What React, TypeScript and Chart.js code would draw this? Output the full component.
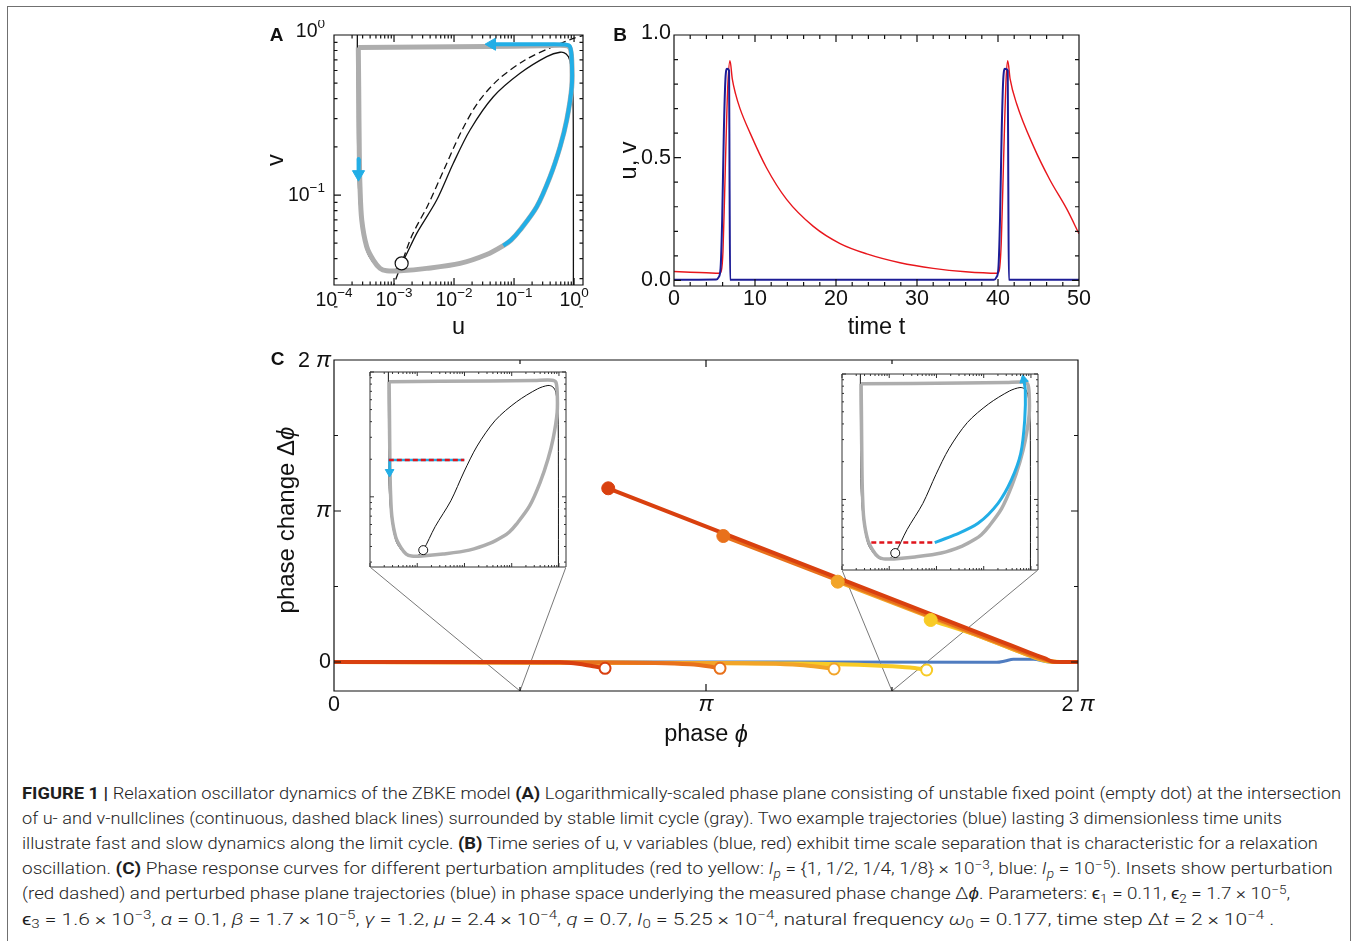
import React, { useEffect, useLayoutEffect, useRef } from 'react';
import { Chart, registerables } from 'chart.js';

Chart.register(...registerables);

type P = [number, number];

// ---------------- Panel A : log phase plane (u, v) ----------------
const aXTickExp = [-4, -3, -2, -1, 0];
const aXTickLabels = ['\u22124', '\u22123', '\u22122', '\u22121', '0'];
const aYTickExp = [-1, 0];
const aYTickLabels = ['\u22121', '0'];

// stable limit cycle (gray)
const limitCycle: P[] = [
  [2.54e-4, 0.835], [0.0355, 0.848], [0.30, 0.856], [0.708, 0.86], [0.857, 0.83], [0.916, 0.698],
  [0.916, 0.475], [0.755, 0.294], [0.585, 0.2], [0.398, 0.13], [0.239, 0.0845], [0.126, 0.0604],
  [0.0891, 0.0523], [0.0664, 0.0483], [0.0351, 0.0425], [0.0126, 0.0374], [0.00351, 0.0348], [0.00126, 0.0336],
  [7.55e-4, 0.0336], [5.85e-4, 0.0348], [4.52e-4, 0.0392], [3.51e-4, 0.0475], [2.9e-4, 0.0698],
  [2.71e-4, 0.1127], [2.64e-4, 0.182], [2.58e-4, 0.475], [2.54e-4, 0.835],
];
// example trajectory 1 (slow branch + jump)
const slowTrajectory: P[] = [
  [0.0664, 0.0483], [0.0891, 0.0523], [0.126, 0.0604], [0.239, 0.0845], [0.398, 0.13], [0.585, 0.2], [0.755, 0.294],
  [0.916, 0.475], [0.916, 0.698], [0.857, 0.845], [0.708, 0.872], [0.3, 0.875], [0.045, 0.876],
];
// example trajectory 2 (fast drop, left branch)
const fastTrajectory: P[] = [[2.6e-4, 0.168], [2.57e-4, 0.14]];
const arrowLeft: P[] = [[0.043, 0.876]];
const arrowDown: P[] = [[2.56e-4, 0.135]];
// u-nullcline (solid) and v-nullcline (dashed)
const uNullcline: P[] = [
  [2.45e-4, 1.05], [2.45e-4, 0.5], [2.6e-4, 0.1], [3.5e-4, 0.045], [6e-4, 0.034], [1.0e-3, 0.0338],
  [1.34e-3, 0.0374], [2.39e-3, 0.0576], [5.15e-3, 0.093], [9.73e-3, 0.158], [0.0185, 0.255],
  [0.0452, 0.411], [0.126, 0.576], [0.351, 0.732], [0.585, 0.78], [0.74, 0.76], [0.857, 0.69],
  [0.95, 0.475], [0.973, 0.183], [0.975, 0.02],
];
const vNullcline: P[] = [
  [8.0e-4, 0.022], [1.34e-3, 0.0374], [2.0e-3, 0.0560], [3.7e-3, 0.0870], [6.9e-3, 0.146],
  [0.0130, 0.246], [0.0250, 0.378], [0.0550, 0.528], [0.155, 0.700], [0.390, 0.828], [0.973, 0.953], [1.5, 1.0],
];
const fixedPoint: P[] = [[1.34e-3, 0.0374]];

// insets (same phase plane)
const insetLPerturbation: P[] = [[2.5e-4, 0.197], [9.9e-3, 0.197]];
const insetLTrajectory: P[] = [[2.6e-4, 0.197], [2.6e-4, 0.165]];
const insetLArrow: P[] = [[2.6e-4, 0.158]];
const insetRPerturbation: P[] = [[4.17e-4, 0.0453], [9.2e-3, 0.0453]];
const insetRTrajectory: P[] = [
  [9.2e-3, 0.0453], [0.0243, 0.0521], [0.0759, 0.0646], [0.201, 0.0932], [0.385, 0.143],
  [0.608, 0.233], [0.738, 0.43], [0.76, 0.745], [0.70, 0.9],
];
const insetRArrow: P[] = [[0.70, 0.9]];

// ---------------- Panel B : time series ----------------
const bXTicks = [0, 10, 20, 30, 40, 50];
const bYTicks = [0, 0.5, 1];
const bYTickLabels = ['0.0', '0.5', '1.0'];
const uSeries: P[] = [
  [0, 0.002], [5.2, 0.003], [5.5, 0.012], [5.75, 0.05], [5.95, 0.25], [6.15, 0.6], [6.35, 0.82],
  [6.55, 0.862], [6.8, 0.855], [6.86, 0.4], [6.93, 0.002], [39.5, 0.002], [39.8, 0.012], [40.05, 0.05],
  [40.25, 0.25], [40.45, 0.6], [40.65, 0.82], [40.86, 0.862], [41.2, 0.855], [41.27, 0.4], [41.34, 0.002],
  [50, 0.002],
];
const vSeries: P[] = [
  [0, 0.036], [2, 0.033], [4, 0.031], [5.6, 0.029], [5.85, 0.04], [6.05, 0.12], [6.25, 0.35], [6.45, 0.6],
  [6.65, 0.8], [6.91, 0.895], [7.2, 0.82], [7.6, 0.76], [8.15, 0.7], [9.4, 0.6], [11.4, 0.46], [13.9, 0.33],
  [17.2, 0.22], [20.5, 0.15], [23.8, 0.108], [27.9, 0.072], [32, 0.049], [36, 0.035], [39.9, 0.029],
  [40.15, 0.04], [40.4, 0.15], [40.6, 0.38], [40.8, 0.62], [41.0, 0.82], [41.2, 0.895], [41.5, 0.82],
  [42.3, 0.72], [44.4, 0.545], [46.4, 0.41], [48.5, 0.29], [50, 0.19],
];

// ---------------- Panel C : phase response curves ----------------
const PI = Math.PI;
const cTicks = [0, PI / 2, PI, (3 * PI) / 2, 2 * PI];
const redPre: P[] = [[0, 0], [0.98, 0], [1.909, -0.006], [2.078, -0.042], [2.204, -0.094], [2.289, -0.131]];
const redPost: P[] = [[2.316, 3.614], [5.624, 0.435], [5.878, 0.191], [6.005, 0.073], [6.072, 0.008], [6.148, 0], [6.2832, 0]];
const orangePre: P[] = [[0, 0], [2.2, -0.01], [3.006, -0.048], [3.175, -0.094], [3.26, -0.131]];
const orangePost: P[] = [[3.288, 2.621], [5.624, 0.395], [5.878, 0.156], [6.005, 0.052], [6.089, 0], [6.2832, 0]];
const ltOrangePre: P[] = [[0, 0], [3.091, -0.021], [3.935, -0.062], [4.104, -0.104], [4.223, -0.146]];
const ltOrangePost: P[] = [[4.254, 1.671], [5.624, 0.374], [5.878, 0.135], [6.005, 0.035], [6.106, 0], [6.2832, 0]];
const yellowPre: P[] = [[0, 0], [3.935, -0.031], [4.611, -0.077], [4.864, -0.114], [5.005, -0.166]];
const yellowPost: P[] = [[5.039, 0.874], [5.456, 0.535], [5.793, 0.212], [6.005, 0.025], [6.131, 0], [6.2832, 0]];
const bluePRC: P[] = [
  [0, 0], [3.0, 0], [5.5, -0.004], [5.597, -0.006], [5.667, 0.021], [5.737, 0.056], [5.836, 0.056],
  [5.906, 0.056], [6.019, 0.006], [6.06, 0], [6.2832, 0],
];
const jumpFilled: P[][] = [[[2.316, 3.614]], [[3.288, 2.621]], [[4.254, 1.671]], [[5.039, 0.874]]];
const jumpOpen: P[][] = [[[2.289, -0.131]], [[3.26, -0.131]], [[4.223, -0.146]], [[5.005, -0.166]]];
const zoomLinesL: P[] = [[0.304, 1.976], [PI / 2, -0.6033], [1.959, 1.976]];
const zoomLinesR: P[] = [[4.29, 1.914], [(3 * PI) / 2, -0.6033], [5.945, 1.914]];
const prcColors = ['#d9400f', '#e8711c', '#f2a428', '#f8cb26'];
const prcBlue = '#4f7cc0';

// ---------------- helpers ----------------
const FONT = '"Liberation Sans", Arial, Helvetica, sans-serif';
const f = (px: number, style = '') => `${style} ${px}px ${FONT}`.trim();
const toXY = (pts: P[]) => pts.map(([x, y]) => ({ x, y }));

function line(pts: P[], color: string, width: number, order: number, extra: any = {}) {
  return {
    data: toXY(pts), showLine: true, borderColor: color, backgroundColor: color, borderWidth: width,
    pointRadius: 0, pointHoverRadius: 0, tension: 0, fill: false, order,
    borderCapStyle: 'butt', borderJoinStyle: 'round', ...extra,
  };
}
function dots(pts: P[], r: number, fillC: string, strokeC: string, bw: number, order: number, extra: any = {}) {
  return {
    data: toXY(pts), showLine: false, pointRadius: r, pointHoverRadius: r, pointBackgroundColor: fillC,
    pointBorderColor: strokeC, pointBorderWidth: bw, order, ...extra,
  };
}

type Run = [string, string, number?];
function runs(ctx: CanvasRenderingContext2D, rs: Run[], x: number, y: number, align: 'left' | 'center' | 'right') {
  const ws = rs.map(([t, fo]) => { ctx.font = fo; return ctx.measureText(t).width; });
  const total = ws.reduce((s, w) => s + w, 0);
  let cx = align === 'left' ? x : align === 'center' ? x - total / 2 : x - total;
  ctx.textAlign = 'left';
  ctx.textBaseline = 'middle';
  rs.forEach(([t, fo, dy = 0], i) => { ctx.font = fo; ctx.fillText(t, cx, y + dy); cx += ws[i]; });
}
function rotRuns(ctx: CanvasRenderingContext2D, rs: Run[], x: number, y: number) {
  ctx.save();
  ctx.translate(x, y);
  ctx.rotate(-Math.PI / 2);
  runs(ctx, rs, 0, 0, 'center');
  ctx.restore();
}

type Tick = [number, number];
type LabelFn = (ctx: CanvasRenderingContext2D, X: (v: number) => number, Y: (v: number) => number, a: any) => void;
function framePlugin(xt: Tick[], yt: Tick[], frameW: number, color: string, labels?: LabelFn) {
  return {
    id: 'mmaFrame',
    afterDraw(chart: any) {
      const { ctx, chartArea: a, scales } = chart;
      const X = (v: number) => scales.x.getPixelForValue(v);
      const Y = (v: number) => scales.y.getPixelForValue(v);
      ctx.save();
      ctx.strokeStyle = color;
      ctx.lineWidth = frameW;
      ctx.beginPath();
      ctx.rect(a.left, a.top, a.right - a.left, a.bottom - a.top);
      for (const [v, len] of xt) {
        const p = X(v);
        ctx.moveTo(p, a.bottom); ctx.lineTo(p, a.bottom - len);
        ctx.moveTo(p, a.top); ctx.lineTo(p, a.top + len);
      }
      for (const [v, len] of yt) {
        const p = Y(v);
        ctx.moveTo(a.left, p); ctx.lineTo(a.left + len, p);
        ctx.moveTo(a.right, p); ctx.lineTo(a.right - len, p);
      }
      ctx.stroke();
      ctx.fillStyle = '#111';
      if (labels) labels(ctx, X, Y, a);
      ctx.restore();
    },
  };
}

function logTicks(minExp: number, maxExp: number, maxV: number, major: number, minor: number): Tick[] {
  const t: Tick[] = [];
  for (let e = minExp; e <= maxExp; e++) {
    for (let k = 1; k <= 9; k++) {
      const v = k * Math.pow(10, e);
      if (v <= maxV * 1.0001) t.push([v, k === 1 ? major : minor]);
    }
  }
  return t;
}

function baseConfig(datasets: any[], scales: any, padding: any, plugin: any) {
  return {
    type: 'scatter',
    data: { datasets },
    options: {
      animation: false, responsive: false, maintainAspectRatio: false, devicePixelRatio: 1, events: [],
      layout: { padding, autoPadding: false },
      plugins: { legend: { display: false }, tooltip: { enabled: false } },
      scales,
    },
    plugins: [plugin],
  } as any;
}

const logScales = {
  x: { type: 'logarithmic', min: 1e-4, max: 1.41, display: false },
  y: { type: 'logarithmic', min: 0.0274, max: 1, display: false },
};

const GRAY = '#adadad';
const CYAN = '#22aee6';
const TITLE = 23.5;

function buildA() {
  const ds = [
    line(vNullcline, '#111', 1.3, 6, { borderDash: [7, 4], tension: 0.3 }),
    line(uNullcline, '#111', 1.3, 5, { tension: 0.3 }),
    line(limitCycle, GRAY, 5, 4, { tension: 0.3 }),
    line(slowTrajectory, CYAN, 4, 3, { tension: 0.3 }),
    line(fastTrajectory, CYAN, 4, 3),
    dots(arrowLeft, 7, CYAN, CYAN, 1, 2, { pointStyle: 'triangle', rotation: -90 }),
    dots(arrowDown, 7, CYAN, CYAN, 1, 2, { pointStyle: 'triangle', rotation: 180 }),
    dots(fixedPoint, 6.5, '#fff', '#111', 1.2, 1),
  ];
  const plugin = framePlugin(
    logTicks(-4, 0, 1.41, 7, 3.5), logTicks(-2, 0, 1, 7, 3.5), 1.2, '#111',
    (ctx, X, Y, a) => {
      aXTickExp.forEach((e, i) => runs(ctx, [['10', f(19.5)], [aXTickLabels[i], f(13.5), -8]], X(Math.pow(10, e)), a.bottom + 16, 'center'));
      aYTickExp.forEach((e, i) => runs(ctx, [['10', f(19.5)], [aYTickLabels[i], f(13.5), -8]], a.left - 9, Y(Math.pow(10, e)) + (e === 0 ? -3 : 1), 'right'));
      runs(ctx, [['u', f(TITLE)]], (a.left + a.right) / 2, a.bottom + 43, 'center');
      rotRuns(ctx, [['v', f(TITLE)]], a.left - 57, (a.top + a.bottom) / 2);
      runs(ctx, [['A', f(19, 'bold')]], a.left - 57.5, a.top + 1, 'center');
    });
  return baseConfig(ds, logScales, { left: 74, top: 15, right: 17, bottom: 60 }, plugin);
}

function bTicks(): { x: Tick[]; y: Tick[] } {
  const x: Tick[] = [];
  for (let t = 0; t <= 50; t += 2) x.push([t, t % 10 === 0 ? 7 : 4]);
  const y: Tick[] = [];
  for (let k = 0; k <= 10; k++) y.push([k / 10, k % 5 === 0 ? 7 : 4]);
  return { x, y };
}

function buildB() {
  const ds = [
    line(uSeries, '#1c1c96', 2, 0, { cubicInterpolationMode: 'monotone' }),
    line(vSeries, '#e8161c', 1.4, 1, { cubicInterpolationMode: 'monotone' }),
  ];
  const t = bTicks();
  const plugin = framePlugin(t.x, t.y, 1.2, '#111', (ctx, X, Y, a) => {
    bXTicks.forEach((v) => runs(ctx, [[String(v), f(21.5)]], X(v), a.bottom + 13, 'center'));
    bYTicks.forEach((v, i) => runs(ctx, [[bYTickLabels[i], f(21.5)]], a.left - 3, Y(v) - (v === 1 ? 2 : 0), 'right'));
    runs(ctx, [['time t', f(TITLE)]], (a.left + a.right) / 2, a.bottom + 42, 'center');
    rotRuns(ctx, [['u, v', f(TITLE)]], a.left - 44, (a.top + a.bottom) / 2);
    runs(ctx, [['B', f(19, 'bold')]], a.left - 54, a.top + 1, 'center');
  });
  return baseConfig(ds, {
    x: { type: 'linear', min: 0, max: 50, display: false },
    y: { type: 'linear', min: -0.023, max: 1, display: false },
  }, { left: 74, top: 15, right: 21, bottom: 59 }, plugin);
}

function buildC() {
  const pres = [redPre, orangePre, ltOrangePre, yellowPre];
  const posts = [redPost, orangePost, ltOrangePost, yellowPost];
  const ds: any[] = [
    line(zoomLinesL, '#555', 0.8, 9),
    line(zoomLinesR, '#555', 0.8, 9),
    line(bluePRC, prcBlue, 3, 8, { cubicInterpolationMode: 'monotone' }),
  ];
  for (let i = 3; i >= 0; i--) {
    ds.push(line(pres[i], prcColors[i], 4, 4 + i * 0.1, { cubicInterpolationMode: 'monotone' }));
    ds.push(line(posts[i], prcColors[i], 4, 4 + i * 0.1, { cubicInterpolationMode: 'monotone' }));
    ds.push(dots(jumpFilled[i], 6.5, prcColors[i], prcColors[i], 1, 1 + i * 0.1));
    ds.push(dots(jumpOpen[i], 5.5, '#fff', prcColors[i], 2, 1 + i * 0.1));
  }
  const xt: Tick[] = cTicks.map((v, i) => [v, i % 2 === 0 ? 7 : 4]);
  const yt: Tick[] = cTicks.map((v, i) => [v, i % 2 === 0 ? 7 : 4]);
  const plugin = framePlugin(xt, yt, 1.2, '#111', (ctx, X, Y, a) => {
    const by = a.bottom + 14;
    runs(ctx, [['0', f(21.5)]], X(0), by, 'center');
    runs(ctx, [['\u03c0', f(22.5, 'italic')]], X(PI), by, 'center');
    runs(ctx, [['2 ', f(21.5)], ['\u03c0', f(22.5, 'italic')]], X(2 * PI), by, 'center');
    runs(ctx, [['0', f(21.5)]], a.left - 3, Y(0), 'right');
    runs(ctx, [['\u03c0', f(22.5, 'italic')]], a.left - 3, Y(PI), 'right');
    runs(ctx, [['2 ', f(21.5)], ['\u03c0', f(22.5, 'italic')]], a.left - 3, Y(2 * PI) + 1, 'right');
    runs(ctx, [['phase ', f(TITLE)], ['\u03d5', f(TITLE, 'italic')]], (a.left + a.right) / 2, a.bottom + 44, 'center');
    rotRuns(ctx, [['phase change \u0394', f(24)], ['\u03d5', f(24, 'italic')]], a.left - 47, a.top + 160);
    runs(ctx, [['C', f(19, 'bold')]], a.left - 56.5, a.top + 0, 'center');
  });
  return baseConfig(ds, {
    x: { type: 'linear', min: 0, max: 2 * PI, display: false },
    y: { type: 'linear', min: -0.6033, max: 2 * PI, display: false },
  }, { left: 74, top: 15, right: 22, bottom: 64 }, plugin);
}

function insetBase(extra: any[]) {
  const ds = [
    line(uNullcline, '#111', 1, 6, { tension: 0.3 }),
    line(limitCycle, GRAY, 3.5, 5, { tension: 0.3 }),
    ...extra,
    dots(fixedPoint, 4.5, '#fff', '#111', 1, 0),
  ];
  const plugin = framePlugin(logTicks(-4, 0, 1.41, 4, 2), logTicks(-2, 0, 1, 4, 2), 1, '#333');
  return baseConfig(ds, logScales, { left: 1, top: 1, right: 1, bottom: 1 }, plugin);
}
function buildInsetL() {
  return insetBase([
    line(insetLPerturbation, CYAN, 2.5, 3),
    line(insetLPerturbation, '#e0141c', 2.5, 2, { borderDash: [5, 3] }),
    line(insetLTrajectory, CYAN, 2.5, 3),
    dots(insetLArrow, 5, CYAN, CYAN, 1, 2, { pointStyle: 'triangle', rotation: 180 }),
  ]);
}
function buildInsetR() {
  return insetBase([
    line(insetRPerturbation, '#e0141c', 2.5, 2, { borderDash: [5, 3] }),
    line(insetRTrajectory, CYAN, 3, 3, { tension: 0.3 }),
    dots(insetRArrow, 5, CYAN, CYAN, 1, 2, { pointStyle: 'triangle', rotation: -12 }),
  ]);
}

function ChartCanvas({ left, top, width, height, build, bg }: { left: number; top: number; width: number; height: number; build: () => any; bg?: string }) {
  const ref = useRef<HTMLCanvasElement>(null);
  useEffect(() => {
    const chart = new Chart(ref.current as HTMLCanvasElement, build());
    return () => chart.destroy();
  }, []);
  return (
    <canvas
      ref={ref}
      width={width}
      height={height}
      style={{ position: 'absolute', left, top, width, height, background: bg || 'transparent' }}
    />
  );
}

// ---------------- caption ----------------
const Sup = ({ children }: { children: React.ReactNode }) => (
  <span style={{ fontSize: '0.72em', position: 'relative', top: '-0.45em' }}>{children}</span>
);
const Sub = ({ children }: { children: React.ReactNode }) => (
  <span style={{ fontSize: '0.72em', position: 'relative', top: '0.3em' }}>{children}</span>
);
const B = ({ children }: { children: React.ReactNode }) => <b style={{ fontWeight: 700 }}>{children}</b>;

const captionLines: React.ReactNode[] = [
  <><B>FIGURE 1 |</B> Relaxation oscillator dynamics of the ZBKE model <B>(A)</B> Logarithmically-scaled phase plane consisting of unstable fixed point (empty dot) at the intersection</>,
  <>of u- and v-nullclines (continuous, dashed black lines) surrounded by stable limit cycle (gray). Two example trajectories (blue) lasting 3 dimensionless time units</>,
  <>illustrate fast and slow dynamics along the limit cycle. <B>(B)</B> Time series of u, v variables (blue, red) exhibit time scale separation that is characteristic for a relaxation</>,
  <>oscillation. <B>(C)</B> Phase response curves for different perturbation amplitudes (red to yellow: <i>I</i><Sub><i>p</i></Sub> = {'{'}1, 1/2, 1/4, 1/8{'}'} × 10<Sup>−3</Sup>, blue: <i>I</i><Sub><i>p</i></Sub> = 10<Sup>−5</Sup>). Insets show perturbation</>,
  <>(red dashed) and perturbed phase plane trajectories (blue) in phase space underlying the measured phase change Δ<i>ϕ</i>. Parameters: ϵ<Sub>1</Sub> = 0.11, ϵ<Sub>2</Sub> = 1.7 × 10<Sup>−5</Sup>,</>,
  <>ϵ<Sub>3</Sub> = 1.6 × 10<Sup>−3</Sup>, <i>α</i> = 0.1, <i>β</i> = 1.7 × 10<Sup>−5</Sup>, <i>γ</i> = 1.2, <i>μ</i> = 2.4 × 10<Sup>−4</Sup>, <i>q</i> = 0.7, <i>I</i><Sub>0</Sub> = 5.25 × 10<Sup>−4</Sup>, natural frequency <i>ω</i><Sub>0</Sub> = 0.177, time step Δ<i>t</i> = 2 × 10<Sup>−4</Sup> .</>,
];
const captionRight = [1341, 1282, 1318, 1333, 1290, 1274];
const CAPTION_LEFT = 22;

function Caption() {
  const refs = useRef<(HTMLDivElement | null)[]>([]);
  useLayoutEffect(() => {
    const fit = () => {
      refs.current.forEach((el, i) => {
        if (!el) return;
        el.style.transform = 'none';
        const w = el.offsetWidth;
        if (w > 0) el.style.transform = `scaleX(${(captionRight[i] - CAPTION_LEFT) / w})`;
      });
    };
    fit();
    const fonts = (document as any).fonts;
    if (fonts && fonts.ready) fonts.ready.then(fit);
  }, []);
  return (
    <>
      {captionLines.map((c, i) => (
        <div
          key={i}
          ref={(el) => { refs.current[i] = el; }}
          style={{
            position: 'absolute', left: CAPTION_LEFT, top: 783.5 + i * 25.2, whiteSpace: 'nowrap',
            transformOrigin: '0 0', fontFamily: 'Roboto, "Liberation Sans", Arial, sans-serif',
            fontSize: 16.5, fontWeight: 300, lineHeight: '20px', height: 20, color: '#1e1e1e',
          }}
        >
          {c}
        </div>
      ))}
    </>
  );
}

export default function App() {
  return (
    <div style={{ position: 'absolute', left: 0, top: 0, width: 1357, height: 941, background: '#fff', overflow: 'hidden' }}>
      <div style={{ position: 'absolute', left: 7, top: 6, width: 1344, height: 980, border: '1.5px solid #707070', boxSizing: 'border-box' }} />
      <ChartCanvas left={260} top={20} width={340} height={325} build={buildA} />
      <ChartCanvas left={600} top={20} width={500} height={325} build={buildB} />
      <ChartCanvas left={260} top={345} width={840} height={410} build={buildC} />
      <ChartCanvas left={369} top={371} width={198} height={197} build={buildInsetL} bg="#fff" />
      <ChartCanvas left={841} top={373} width={198} height={198} build={buildInsetR} bg="#fff" />
      <Caption />
    </div>
  );
}
